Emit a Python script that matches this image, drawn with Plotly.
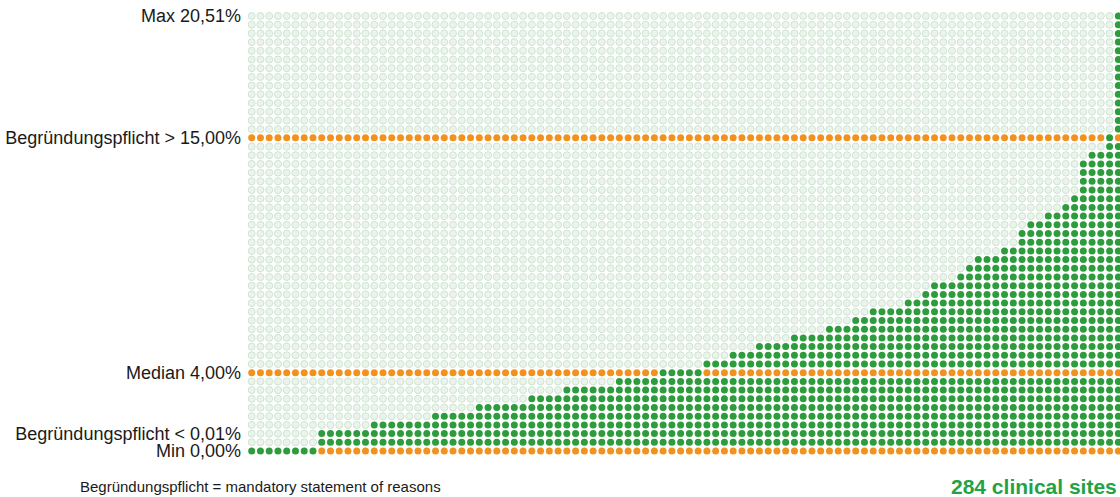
import plotly.graph_objects as go

# Staircase of sites: dot row reached, and how many columns share it
step_rows = [0, 2, 3, 4, 5, 6, 7, 8, 9, 10, 11, 12, 13, 14, 15, 16, 17, 18, 19, 20,
             21, 22, 23, 25, 26, 27, 28, 29, 33, 34, 36, 50]
step_widths = [8, 6, 7, 5, 6, 4, 6, 5, 5, 3, 3, 4, 4, 3, 2, 4, 2, 1, 3, 1,
               1, 3, 2, 1, 2, 2, 1, 1, 1, 2, 1, 1]

n_rows = 51
ref_rows = [0, 9, 36]  # orange reference lines: Min, Median, 15 %
label_rows = [0, 2, 9, 36, 50]
label_text = ["Min 0,00%", "Begründungspflicht < 0,01%", "Median 4,00%",
              "Begründungspflicht > 15,00%", "Max 20,51%"]
footnote = "Begründungspflicht = mandatory statement of reasons"
sites_text = "284 clinical sites"

heights = []
for r, w in zip(step_rows, step_widths):
    heights += [r] * w

light_x, light_y, green_x, green_y, orange_x, orange_y = [], [], [], [], [], []
for c, h in enumerate(heights):
    for r in range(n_rows):
        if r in ref_rows and r != h:
            orange_x.append(c); orange_y.append(r)
        elif r <= h:
            green_x.append(c); green_y.append(r)
        else:
            light_x.append(c); light_y.append(r)

W, H, L = 1120, 497, 246
PW = W - L

fig = go.Figure()
fig.add_trace(go.Scatter(x=light_x, y=light_y, mode="markers", hoverinfo="skip",
                         marker=dict(size=7, color="#ebf4ec", line=dict(color="#cfe4d1", width=1))))
fig.add_trace(go.Scatter(x=green_x, y=green_y, mode="markers",
                         marker=dict(size=7, color="#2c9c3c")))
fig.add_trace(go.Scatter(x=orange_x, y=orange_y, mode="markers",
                         marker=dict(size=7, color="#f2921e")))

fig.add_annotation(text=footnote, xref="paper", yref="paper", x=(78 - L) / PW, y=1 - 486 / H,
                   xanchor="left", yanchor="middle", showarrow=False,
                   font=dict(size=15, color="#1a1a1a"))
fig.add_annotation(text="<b>" + sites_text + "</b>", xref="paper", yref="paper",
                   x=(1119 - L) / PW, y=1 - 486 / H,
                   xanchor="right", yanchor="middle", showarrow=False,
                   font=dict(size=21, color="#1fa345"))

fig.update_layout(
    width=W, height=H,
    margin=dict(l=L, r=0, t=0, b=0),
    plot_bgcolor="white", paper_bgcolor="white",
    showlegend=False,
    font=dict(family="Liberation Sans, Arial", size=18, color="#1a1a1a"),
    xaxis=dict(range=[-0.65, 99.19], visible=False, fixedrange=True),
    yaxis=dict(range=[-5.287, 51.84], tickvals=label_rows, ticktext=label_text,
               showgrid=False, zeroline=False, showline=False, ticks="",
               ticklabelstandoff=4, ticklabeloverflow="allow", automargin=False,
               fixedrange=True),
)

fig.write_html("out.html", config={"displayModeBar": False},
               post_script="document.body.style.margin='0';document.body.style.overflow='hidden';")
